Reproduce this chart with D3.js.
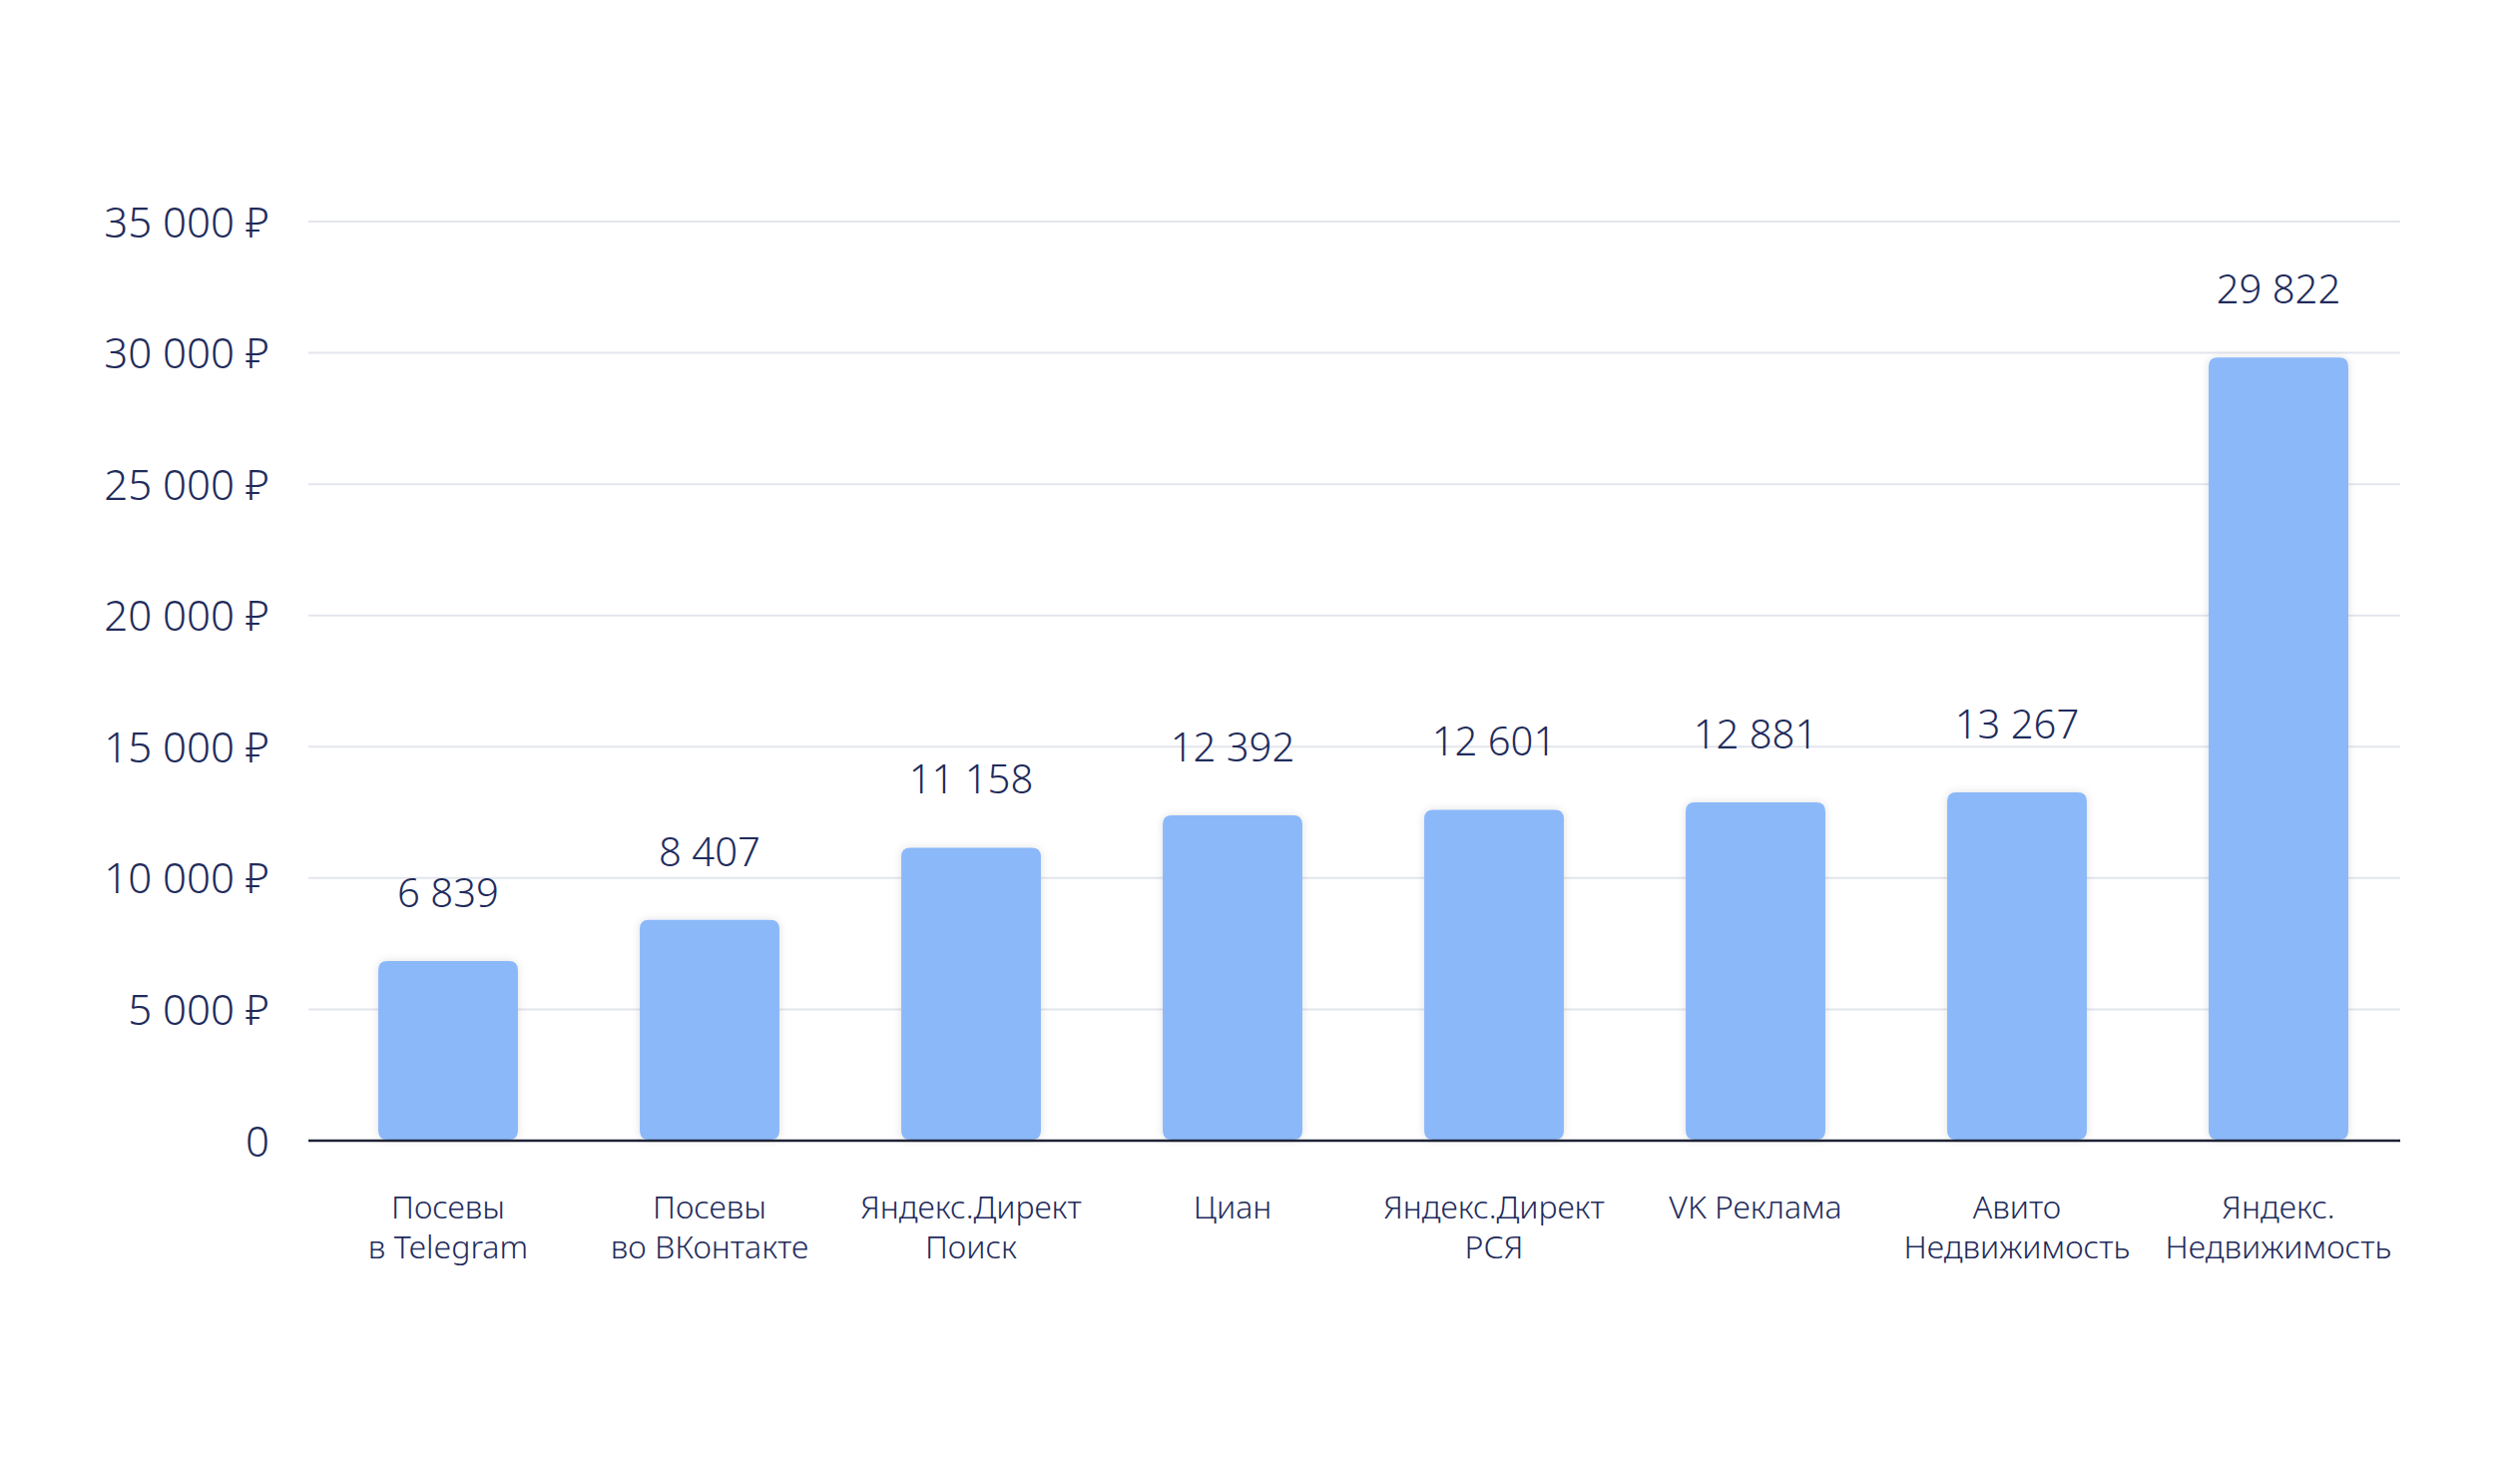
<!DOCTYPE html>
<html>
<head>
<meta charset="utf-8">
<script src="https://cdn.jsdelivr.net/npm/d3@7"></script>
<style>
  html, body { margin: 0; padding: 0; background: #ffffff; }
  svg { display: block; }
  text { font-family: "Noto Sans", "Open Sans", sans-serif; font-weight: 300; fill: #1f2c5c; }
</style>
</head>
<body>
<svg id="chart" width="2525" height="1464"></svg>
<script>
// ---- data ----
const categories = [
  ["Посевы", "в Telegram"],
  ["Посевы", "во ВКонтакте"],
  ["Яндекс.Директ", "Поиск"],
  ["Циан"],
  ["Яндекс.Директ", "РСЯ"],
  ["VK Реклама"],
  ["Авито", "Недвижимость"],
  ["Яндекс.", "Недвижимость"]
];
const values = [6839, 8407, 11158, 12392, 12601, 12881, 13267, 29822];
const yTicks = [0, 5000, 10000, 15000, 20000, 25000, 30000, 35000];

// ---- layout ----
const svg = d3.select("#chart");
const plotLeft = 309, plotRight = 2405;
const yBottom = 1143, yTop = 222;

const idx = d3.range(categories.length);
const x = d3.scaleBand()
  .domain(idx)
  .range([318, 2414])
  .paddingInner(0.466)
  .paddingOuter(0.233);

const y = d3.scaleLinear().domain([0, 35000]).range([yBottom, yTop]);

const fmtNum = v => d3.format(",")(v).replace(/,/g, " ");
const fmtTick = v => v === 0 ? "0" : fmtNum(v) + " ₽";

// shadow filter
const defs = svg.append("defs");
const f = defs.append("filter").attr("id", "shadow")
  .attr("x", "-20%").attr("y", "-20%").attr("width", "140%").attr("height", "140%");
f.append("feDropShadow").attr("dx", 0).attr("dy", 0)
  .attr("stdDeviation", 4).attr("flood-color", "#000").attr("flood-opacity", 0.12);

// gridlines
svg.append("g").selectAll("line")
  .data(yTicks.filter(t => t > 0))
  .join("line")
  .attr("x1", plotLeft).attr("x2", plotRight)
  .attr("y1", d => y(d)).attr("y2", d => y(d))
  .attr("stroke", "#e3e6ee").attr("stroke-width", 2);

// y axis labels
const yAxis = d3.axisLeft(y).tickValues(yTicks).tickFormat(fmtTick).tickSize(0).tickPadding(0);
const yg = svg.append("g").attr("transform", `translate(270,0)`).call(yAxis);
yg.select(".domain").remove();
yg.selectAll("text")
  .attr("font-size", 42)
  .attr("dy", "0.36em")
  .style("font-family", '"Noto Sans", sans-serif')
  .style("font-weight", 300)
  .attr("fill", "#1f2c5c");

// bars
const r = 9;
svg.append("g").selectAll("path")
  .data(values)
  .join("path")
  .attr("filter", "url(#shadow)")
  .attr("fill", "#8bb8f9")
  .attr("d", (d, i) => {
    const x0 = x(i), w = x.bandwidth(), y0 = y(d), y1 = y(0) - 1;
    return `M${x0},${y1 - r} L${x0},${y0 + r} Q${x0},${y0} ${x0 + r},${y0} L${x0 + w - r},${y0} Q${x0 + w},${y0} ${x0 + w},${y0 + r} L${x0 + w},${y1 - r} Q${x0 + w},${y1} ${x0 + w - r},${y1} L${x0 + r},${y1} Q${x0},${y1} ${x0},${y1 - r} Z`;
  });

// baseline axis
svg.append("line")
  .attr("x1", plotLeft).attr("x2", plotRight)
  .attr("y1", yBottom).attr("y2", yBottom)
  .attr("stroke", "#1d2235").attr("stroke-width", 2.5);

// value labels
svg.append("g").selectAll("text")
  .data(values)
  .join("text")
  .attr("x", (d, i) => x(i) + x.bandwidth() / 2)
  .attr("y", d => y(d) - 54)
  .attr("text-anchor", "middle")
  .attr("font-size", 40)
  .text(d => fmtNum(d));

// x category labels (one text element per line)
const lines = categories.flatMap((c, i) => c.map((s, j) => ({ s, i, j })));
svg.append("g").selectAll("text")
  .data(lines)
  .join("text")
  .attr("x", d => x(d.i) + x.bandwidth() / 2)
  .attr("y", d => 1221 + d.j * 40)
  .attr("text-anchor", "middle")
  .attr("font-size", 32)
  .text(d => d.s);
</script>
</body>
</html>
